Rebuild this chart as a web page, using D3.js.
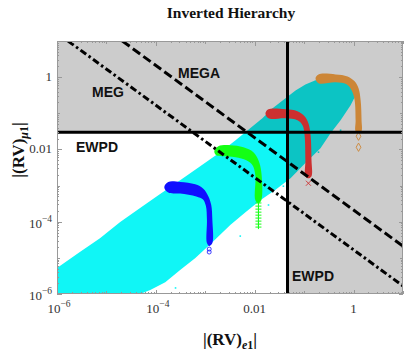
<!DOCTYPE html>
<html>
<head>
<meta charset="utf-8">
<script src="https://cdn.jsdelivr.net/npm/d3@7/dist/d3.min.js"></script>
<style>
	body { margin: 0; background: #fff; }
	svg { display: block; }
	.axis path, .axis line { stroke: #999; shape-rendering: crispEdges; }
	.tickLabel { font-family: "Liberation Serif", "Times New Roman", serif; font-size: 13px; fill: #333; }
	.region { font-family: "Liberation Sans", Arial, sans-serif; font-weight: bold; font-size: 14px; fill: #111; }
	.axisLabel { font-family: "Liberation Serif", "Times New Roman", serif; font-weight: bold; font-size: 17px; fill: #111; }
</style>
</head>
<body>
<script>
// axis ticks
var xMajor = [1e-6, 1e-4, 1e-2, 1];
var yMajor = [1e-6, 1e-4, 1e-2, 1];
var majorLabels = [["10", "\u22126"], ["10", "\u22124"], ["0.01", ""], ["1", ""]];

// experimental bounds
var ewpdX = 0.046, ewpdY = 0.03;
var megaLine = [[2.1e-5, 10], [10, 2.1e-5]];
var megLine = [[1.67e-6, 10], [10, 1.67e-6]];

// scan region (cyan), outline of the dense cloud + a few stray points
var cyanCloud = [
	[1e-6, 1e-6], [1e-6, 5.2e-6], [2.9e-6, 1.45e-5], [7.4e-6, 3.5e-5], [1.9e-5, 9.8e-5],
	[4.8e-5, 2.4e-4], [1.22e-4, 5.8e-4], [3.1e-4, 1.41e-3], [7.9e-4, 3.4e-3], [2.0e-3, 8.4e-3],
	[4.1e-3, 1.8e-2], [8.2e-3, 3.9e-2], [1.43e-2, 7.3e-2], [2.3e-2, 0.137], [4.2e-2, 0.26],
	[6.7e-2, 0.43], [0.106, 0.63], [0.17, 0.82], [0.342, 0.82], [0.69, 0.72], [0.955, 0.56],
	[1.1, 0.31], [0.87, 0.166], [0.546, 6.4e-2], [0.342, 2.8e-2], [0.214, 1.08e-2],
	[0.106, 4.2e-3], [5.3e-2, 1.6e-3], [2.6e-2, 7.5e-4], [1.3e-2, 3.95e-4], [6.5e-3, 1.84e-4],
	[3.2e-3, 8.1e-5], [1.39e-3, 2.7e-5], [6.3e-4, 9.9e-6], [3.1e-4, 4.6e-6], [1.55e-4, 2.1e-6],
	[7.7e-5, 1.29e-6], [4.8e-5, 1e-6]
];
var cyanStray = [
	[0.195, 8.4e-3], [0.084, 9.5e-3], [0.038, 9.6e-4], [5.1e-3, 4.0e-5], [2.2e-3, 6.7e-5],
	[0.546, 0.034], [1.9e-2, 2.9e-4], [2.5e-4, 1.47e-6]
];

// benchmark curves
var blueHook = [
	[1.48e-4, 9.0e-4], [1.78e-4, 1.26e-3], [3.11e-4, 1.26e-3], [6.26e-4, 1.08e-3], [9.12e-4, 8.2e-4],
	[1.15e-3, 5.09e-4], [1.32e-3, 2.88e-4], [1.39e-3, 1.11e-4], [1.39e-3, 2.56e-5], [1.20e-3, 2.12e-5],
	[1.08e-3, 2.56e-5], [1.08e-3, 1.11e-4], [1.03e-3, 2.70e-4], [9.0e-4, 4.1e-4], [6.58e-4, 5.0e-4],
	[3.11e-4, 6.0e-4], [1.78e-4, 6.4e-4]
];
var blueEnds = [[1.2e-3, 1.75e-5], [1.2e-3, 1.45e-5]];

var greenHook = [
	[1.52e-3, 8.9e-3], [1.84e-3, 1.22e-2], [3.2e-3, 1.31e-2], [5.9e-3, 1.15e-2], [9.39e-3, 8.4e-3],
	[1.19e-2, 5.0e-3], [1.36e-2, 2.34e-3], [1.36e-2, 3.95e-4], [1.19e-2, 3.27e-4], [1.03e-2, 3.95e-4],
	[1.03e-2, 1.94e-3], [8.97e-3, 3.7e-3], [6.78e-3, 5.0e-3], [4.1e-3, 6.1e-3], [2.2e-3, 6.5e-3],
	[1.67e-3, 6.9e-3]
];
var greenEnds = [
	[1.19e-2, 3.3e-4], [1.19e-2, 2.7e-4], [1.19e-2, 2.23e-4], [1.19e-2, 1.84e-4], [1.19e-2, 1.52e-4],
	[1.19e-2, 1.26e-4], [1.19e-2, 1.04e-4], [1.19e-2, 8.6e-5], [1.19e-2, 7.1e-5]
];

var redHook = [
	[1.65e-2, 0.1], [1.89e-2, 0.129], [4.19e-2, 0.129], [7.33e-2, 0.114], [0.102, 0.0826],
	[0.122, 0.053], [0.135, 0.0247], [0.141, 5.0e-3], [0.141, 1.82e-3], [0.122, 1.6e-3],
	[0.106, 1.82e-3], [0.106, 5.0e-3], [0.102, 0.0247], [9.27e-2, 0.0467], [7.33e-2, 0.0641],
	[4.19e-2, 0.0728], [1.89e-2, 0.0728]
];
var redEnds = [[0.122, 1.16e-3]];

var orangeHook = [
	[0.17, 0.927], [0.195, 1.19], [0.433, 1.19], [0.757, 1.05], [1.05, 0.766],
	[1.26, 0.491], [1.39, 0.229], [1.45, 0.0641], [1.45, 0.0318], [1.26, 0.0281],
	[1.10, 0.0318], [1.10, 0.0641], [1.05, 0.229], [0.912, 0.431], [0.72, 0.632],
	[0.433, 0.718], [0.195, 0.675]
];
var orangeEnds = [[1.26, 0.0232], [1.26, 0.0115]];

;((window, document, d3) => {
	'use strict';

	var W = 409, H = 354;
	var plot = { left: 57, right: 403, top: 41, bottom: 294 };

	var svg = d3.select("body").append("svg")
		.attr("width", W)
		.attr("height", H);

	var x = d3.scaleLog().domain([1e-6, 10]).range([plot.left, plot.right]);
	var y = d3.scaleLog().domain([1e-6, 10]).range([plot.bottom, plot.top]);

	svg.append("clipPath").attr("id", "plotclip")
		.append("rect")
		.attr("x", plot.left).attr("y", plot.top)
		.attr("width", plot.right - plot.left).attr("height", plot.bottom - plot.top);

	var g = svg.append("g").attr("clip-path", "url(#plotclip)");

	///////////////////////////////////////////////////////////////////////////
	//////////////////////////// Data /////////////////////////////////////////
	///////////////////////////////////////////////////////////////////////////

	var closedSmooth = d3.line().x(d => x(d[0])).y(d => y(d[1])).curve(d3.curveCatmullRomClosed.alpha(0.5));
	var closedLinear = d3.line().x(d => x(d[0])).y(d => y(d[1])).curve(d3.curveLinearClosed);

	g.append("path")
		.attr("d", closedLinear(cyanCloud))
		.attr("fill", "#10f6f6");

	g.selectAll(".stray")
		.data(cyanStray)
		.enter().append("rect")
		.attr("x", d => x(d[0]) - 0.8)
		.attr("y", d => y(d[1]) - 0.8)
		.attr("width", 1.6).attr("height", 1.6)
		.attr("fill", "#10f6f6");

	var hooks = [
		{ pts: blueHook, color: "#1010ff" },
		{ pts: greenHook, color: "#14ff14" },
		{ pts: redHook, color: "#ff3c3c" },
		{ pts: orangeHook, color: "#ffa845" }
	];
	g.selectAll(".hook")
		.data(hooks)
		.enter().append("path")
		.attr("d", d => closedSmooth(d.pts))
		.attr("fill", d => d.color);

	// end markers
	g.selectAll(".blueEnd").data(blueEnds).enter().append("circle")
		.attr("cx", d => x(d[0])).attr("cy", d => y(d[1])).attr("r", 2)
		.attr("fill", "none").attr("stroke", "#1010ff").attr("stroke-width", 0.8);

	g.selectAll(".greenEnd").data(greenEnds).enter().append("path")
		.attr("d", d => "M" + (x(d[0]) - 3) + "," + y(d[1]) + "h6M" + x(d[0]) + "," + (y(d[1]) - 2) + "v4")
		.attr("stroke", "#14ff14").attr("stroke-width", 1);

	g.selectAll(".redEnd").data(redEnds).enter().append("path")
		.attr("d", d => "M" + (x(d[0]) - 2.5) + "," + (y(d[1]) - 2.5) + "l5,5M" + (x(d[0]) + 2.5) + "," + (y(d[1]) - 2.5) + "l-5,5")
		.attr("stroke", "#ff3c3c").attr("stroke-width", 0.9);

	g.selectAll(".orangeEnd").data(orangeEnds).enter().append("path")
		.attr("d", d3.symbol().type(d3.symbolDiamond).size(20))
		.attr("transform", d => "translate(" + x(d[0]) + "," + y(d[1]) + ")")
		.attr("fill", "none").attr("stroke", "#ffa845").attr("stroke-width", 0.9);

	///////////////////////////////////////////////////////////////////////////
	//////////////////////////// Excluded regions /////////////////////////////
	///////////////////////////////////////////////////////////////////////////

	// shading drawn over the points
	g.append("rect")
		.attr("x", plot.left).attr("y", plot.top)
		.attr("width", plot.right - plot.left).attr("height", y(ewpdY) - plot.top)
		.attr("fill", "#000").attr("fill-opacity", 0.2);
	g.append("rect")
		.attr("x", x(ewpdX)).attr("y", y(ewpdY))
		.attr("width", plot.right - x(ewpdX)).attr("height", plot.bottom - y(ewpdY))
		.attr("fill", "#000").attr("fill-opacity", 0.2);

	var line2 = d3.line().x(d => x(d[0])).y(d => y(d[1]));

	g.append("path").attr("d", line2(megaLine))
		.attr("fill", "none").attr("stroke", "#000").attr("stroke-width", 3)
		.attr("stroke-dasharray", "9,4");
	g.append("path").attr("d", line2(megLine))
		.attr("fill", "none").attr("stroke", "#000").attr("stroke-width", 3)
		.attr("stroke-dasharray", "7,3,2.5,3");

	g.append("line")
		.attr("x1", plot.left).attr("x2", plot.right)
		.attr("y1", y(ewpdY)).attr("y2", y(ewpdY))
		.attr("stroke", "#000").attr("stroke-width", 3);
	g.append("line")
		.attr("x1", x(ewpdX)).attr("x2", x(ewpdX))
		.attr("y1", plot.top).attr("y2", plot.bottom)
		.attr("stroke", "#000").attr("stroke-width", 3);

	///////////////////////////////////////////////////////////////////////////
	//////////////////////////// Axes /////////////////////////////////////////
	///////////////////////////////////////////////////////////////////////////

	var minors = [];
	for (var e = -6; e <= 0; e++) {
		for (var k = 1; k <= 9; k++) minors.push(k * Math.pow(10, e));
	}
	minors.push(10);

	function frameAxis(axisFn, scale, values, size, transform) {
		svg.append("g")
			.attr("class", "axis")
			.attr("transform", transform)
			.call(axisFn(scale).tickValues(values).tickSize(size).tickFormat(""))
			.call(a => a.select(".domain").remove());
	}
	[["b", "translate(0," + plot.bottom + ")"], ["t", "translate(0," + plot.top + ")"]].forEach(function(s) {
		var fn = s[0] === "b" ? d3.axisBottom : d3.axisTop;
		frameAxis(fn, x, minors, -2, s[1]);
		frameAxis(fn, x, [1e-5, 1e-3, 0.1, 10], -3, s[1]);
		frameAxis(fn, x, xMajor, -4.5, s[1]);
	});
	[["l", "translate(" + plot.left + ",0)"], ["r", "translate(" + plot.right + ",0)"]].forEach(function(s) {
		var fn = s[0] === "l" ? d3.axisLeft : d3.axisRight;
		frameAxis(fn, y, minors, -2, s[1]);
		frameAxis(fn, y, [1e-5, 1e-3, 0.1, 10], -3, s[1]);
		frameAxis(fn, y, yMajor, -4.5, s[1]);
	});

	svg.append("rect")
		.attr("x", plot.left + 0.5).attr("y", plot.top + 0.5)
		.attr("width", plot.right - plot.left - 1).attr("height", plot.bottom - plot.top - 1)
		.attr("fill", "none").attr("stroke", "#999");

	function tickText(sel, lab) {
		sel.append("tspan").text(lab[0]);
		if (lab[1]) sel.append("tspan").attr("dy", -6).style("font-size", "9.5px").text(lab[1]);
	}

	xMajor.forEach(function(v, i) {
		svg.append("text").attr("class", "tickLabel")
			.attr("x", x(v) + (majorLabels[i][1] ? 2 : 0)).attr("y", plot.bottom + 19)
			.attr("text-anchor", "middle")
			.call(tickText, majorLabels[i]);
	});
	yMajor.forEach(function(v, i) {
		svg.append("text").attr("class", "tickLabel")
			.attr("x", plot.left - 5).attr("y", y(v) + 4 + (majorLabels[i][1] ? 2 : 0))
			.attr("text-anchor", "end")
			.call(tickText, majorLabels[i]);
	});

	///////////////////////////////////////////////////////////////////////////
	//////////////////////////// Labels ///////////////////////////////////////
	///////////////////////////////////////////////////////////////////////////

	svg.append("text").attr("class", "axisLabel")
		.attr("x", 231).attr("y", 18)
		.attr("text-anchor", "middle")
		.style("font-size", "15.5px")
		.text("Inverted Hierarchy");

	var xl = svg.append("text").attr("class", "axisLabel")
		.attr("x", 230).attr("y", 345).attr("text-anchor", "middle");
	xl.append("tspan").text("|(RV)");
	xl.append("tspan").attr("dy", 4).style("font-size", "12px").style("font-style", "italic").text("e");
	xl.append("tspan").style("font-size", "12px").text("1");
	xl.append("tspan").attr("dy", -4).text("|");

	var yl = svg.append("text").attr("class", "axisLabel")
		.attr("transform", "translate(24,150)rotate(-90)").attr("text-anchor", "middle");
	yl.append("tspan").text("|(RV)");
	yl.append("tspan").attr("dy", 4).style("font-size", "12px").style("font-style", "italic").text("\u03bc");
	yl.append("tspan").style("font-size", "12px").text("1");
	yl.append("tspan").attr("dy", -4).text("|");

	var regionLabels = [["MEG", 92, 97], ["MEGA", 178, 78], ["EWPD", 76, 152], ["EWPD", 292, 281]];
	svg.selectAll(".region")
		.data(regionLabels)
		.enter().append("text")
		.attr("class", "region")
		.attr("x", d => d[1]).attr("y", d => d[2])
		.text(d => d[0]);

})(window, document, window.d3);
</script>
</body>
</html>
